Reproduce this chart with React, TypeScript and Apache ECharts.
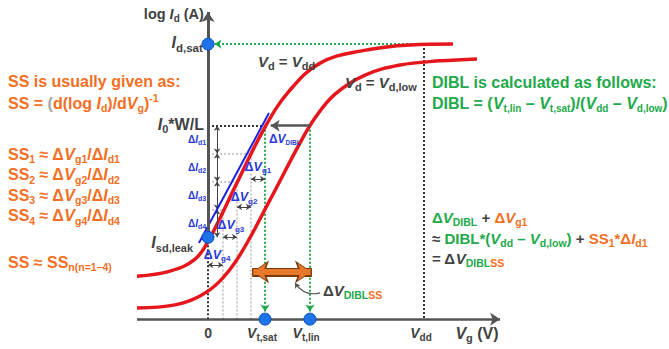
import React, { useEffect, useRef } from "react";
import * as echarts from "echarts";

const W = 669;
const H = 349;

// Axis space: Vg in volts (Vdd = 1), log Id in decades
const X_MIN = -0.963;
const X_MAX = 2.134;
const Y_MIN = -15;
const Y_MAX = -2.5;

const VDD = 1.0;
const VT_SAT = 0.264;
const VT_LIN = 0.472;
const ID_SAT = -4.08;
const I0_LEVEL = -7;
const ISD_LEAK = -11;
const AXIS_Y = -13.93;
const AXIS_X_START = -0.329;
const AXIS_X_END = 1.352;
const Y_AXIS_TOP = -2.93;

const DID_LEVELS = [-7, -8, -9, -10, -11];
const DID_X = 0.042;
const DVG_STEPS = [0, 0.069, 0.134, 0.199, 0.264];
const DVG_ARROW_LEVELS = [-8.91, -9.91, -10.99, -11.99];

const curveVdd: [number, number][] = [
  [-0.329, -12.39], [-0.176, -12.21], [-0.06, -11.78], [0.009, -11.02], [0.134, -9.05],
  [0.264, -7.05], [0.38, -5.72], [0.519, -4.76], [0.704, -4.33], [0.935, -4.11], [1.134, -4.08],
];
const curveVdLow: [number, number][] = [
  [-0.329, -13.53], [-0.153, -13.42], [-0.037, -13.1], [0.056, -12.56], [0.148, -11.63],
  [0.287, -9.66], [0.426, -7.62], [0.495, -6.73], [0.588, -5.87], [0.727, -5.19],
  [0.889, -4.83], [1.074, -4.68], [1.245, -4.61],
];
const tangent: [number, number][] = [[-0.042, -11.2], [0.282, -6.55]];
const orangeArrow: [number, number][] = [[0.204, -12.24], [0.481, -12.24]];
const pointer: [number, number][] = [[0.519, -12.99], [0.403, -12.64]];

const FONT = "'Liberation Sans', Arial, Helvetica, sans-serif";
const GRAY = "#424242";
const ORANGE = "#F26F24";
const GREEN = "#22A94B";
const BLUE = "#2B3AD6";
const RED = "#E5171C";
const DOT = "#1E73E8";

function styleSet(prefix: string, color: string, size: number, sub: number, useFill: boolean) {
  const base: any = { fontSize: size, fontWeight: "bold", fontFamily: FONT };
  if (useFill) base.fill = color;
  else base.color = color;
  const pad = Math.round(size * 0.6);
  return {
    [prefix + "n"]: base,
    [prefix + "i"]: { ...base, fontStyle: "italic" },
    [prefix + "s"]: { ...base, fontSize: sub, padding: [pad, 0, 0, 0] },
    [prefix + "u"]: { ...base, fontSize: sub, padding: [0, 0, pad, 0] },
  };
}

function makeRich(useFill: boolean): any {
  return {
    ...styleSet("g", GRAY, 15, 11, useFill),
    ...styleSet("h", GRAY, 16, 11.5, useFill),
    ...styleSet("a", GRAY, 14, 10, useFill),
    ...styleSet("L", GRAY, 16, 11, useFill),
    ...styleSet("t", GRAY, 14.5, 10, useFill),
    ...styleSet("b", BLUE, 10, 7, useFill),
    ...styleSet("v", BLUE, 12.5, 8, useFill),
    ...styleSet("x", BLUE, 12, 6.5, useFill),
    ...styleSet("o", ORANGE, 16, 10.5, useFill),
    ...styleSet("y", "#A5A5A5", 16, 10.5, useFill),
    ...styleSet("e", GREEN, 16, 10, useFill),
    ...styleSet("p", ORANGE, 15, 10.5, useFill),
    ...styleSet("q", GREEN, 15, 10.5, useFill),
    ...styleSet("r", GRAY, 15, 10.5, useFill),
  };
}
const RICH_LABEL = makeRich(false);
const RICH_GRAPHIC = makeRich(true);

const t = (k: string, s: string) => `{${k}|${s}}`;

const leftLines: [number, string][] = [
  [81, t("on", "SS is usually given as:")],
  [103, t("on", "SS = ") + t("yn", "(") + t("on", "d(log ") + t("oi", "I") + t("os", "d") + t("on", ")/d") + t("oi", "V") + t("os", "g") + t("on", ")") + t("ou", "-1")],
  ...[1, 2, 3, 4].map((n, k) => [154 + k * 20.5, t("on", "SS") + t("os", String(n)) + t("on", " ≈ Δ") + t("oi", "V") + t("os", "g" + n) + t("on", "/Δ") + t("oi", "I") + t("os", "d" + n)] as [number, string]),
  [262, t("on", "SS ≈ SS") + t("os", "n(n=1–4)")],
];

const rightLines: [number, string][] = [
  [82, t("en", "DIBL is calculated as follows:")],
  [103, t("en", "DIBL = (") + t("ei", "V") + t("es", "t,lin") + t("en", " – ") + t("ei", "V") + t("es", "t,sat") + t("en", ")/(") + t("ei", "V") + t("es", "dd") + t("en", " – ") + t("ei", "V") + t("es", "d,low") + t("en", ")")],
  [217, t("qn", "Δ") + t("qi", "V") + t("qs", "DIBL") + t("rn", " + ") + t("pn", "Δ") + t("pi", "V") + t("ps", "g1")],
  [238, t("rn", "≈ ") + t("qn", "DIBL*(") + t("qi", "V") + t("qs", "dd") + t("qn", " – ") + t("qi", "V") + t("qs", "d,low") + t("qn", ")") + t("rn", " + ") + t("pn", "SS") + t("ps", "1") + t("pn", "*Δ") + t("pi", "I") + t("ps", "d1")],
  [258, t("rn", "= Δ") + t("ri", "V") + t("qs", "DIBL") + t("ps", "SS")],
];

type Lbl = { at: [number, number]; text: string; align: string };
const chartLabels: Lbl[] = [
  { at: [-0.019, -3.0], text: t("tn", "log ") + t("ti", "I") + t("ts", "d") + t("tn", " (A)"), align: "right" },
  { at: [-0.024, -4.04], text: t("hi", "I") + t("hs", "d,sat"), align: "right" },
  { at: [-0.019, -6.95], text: t("Li", "I") + t("Ls", "0") + t("Ln", "*W/L"), align: "right" },
  { at: [-0.069, -11.2], text: t("Li", "I") + t("Ls", "sd,leak"), align: "right" },
  { at: [0.231, -4.72], text: t("gi", "V") + t("gs", "d") + t("gn", " = ") + t("gi", "V") + t("gs", "dd"), align: "left" },
  { at: [0.634, -5.44], text: t("gi", "V") + t("gs", "d") + t("gn", " = ") + t("gi", "V") + t("gs", "d,low"), align: "left" },
  { at: [0, -14.43], text: t("an", "0"), align: "center" },
  { at: [0.25, -14.43], text: t("ai", "V") + t("as", "t,sat"), align: "center" },
  { at: [0.454, -14.43], text: t("ai", "V") + t("as", "t,lin"), align: "center" },
  { at: [0.986, -14.43], text: t("ai", "V") + t("as", "dd"), align: "center" },
  { at: [1.245, -14.43], text: t("Li", "V") + t("Ls", "g") + t("Ln", " (V)"), align: "center" },
  ...[1, 2, 3, 4].map((n) => ({ at: [-0.009, -6.5 - n] as [number, number], text: t("bn", "Δ") + t("bi", "I") + t("bs", "d" + n), align: "right" })),
  { at: [0.231, -8.48], text: t("vn", "Δ") + t("vi", "V") + t("vs", "g1"), align: "center" },
  { at: [0.167, -9.56], text: t("vn", "Δ") + t("vi", "V") + t("vs", "g2"), align: "center" },
  { at: [0.106, -10.56], text: t("vn", "Δ") + t("vi", "V") + t("vs", "g3"), align: "center" },
  { at: [0.042, -11.63], text: t("vn", "Δ") + t("vi", "V") + t("vs", "g4"), align: "center" },
  { at: [0.282, -7.48], text: t("xn", "Δ") + t("xi", "V") + t("xs", "DIBL"), align: "left" },
  { at: [0.532, -12.89], text: t("rn", "Δ") + t("ri", "V") + t("qs", "DIBL") + t("ps", "SS"), align: "left" },
];

const seg = (a: [number, number], b: [number, number]) => ({ coords: [a, b] });

function buildOption(): any {
  const linesBase = { type: "lines", coordinateSystem: "cartesian2d", polyline: false, silent: true, z: 2 };
  const grayGuides = [1, 2, 3].flatMap((i) => [
    seg([0, DID_LEVELS[i]], [DVG_STEPS[4 - i], DID_LEVELS[i]]),
    seg([DVG_STEPS[4 - i], DID_LEVELS[i]], [DVG_STEPS[4 - i], AXIS_Y]),
  ]);
  const blackDotted = [
    seg([0, I0_LEVEL], [VT_SAT, I0_LEVEL]),
    seg([VDD, ID_SAT], [VDD, AXIS_Y]),
    seg([0, ISD_LEAK], [0, AXIS_Y]),
  ];
  const greenArrows = [
    seg([VDD, ID_SAT], [0.03, ID_SAT]),
    seg([VT_SAT, I0_LEVEL], [VT_SAT, AXIS_Y + 0.27]),
    seg([VT_LIN, I0_LEVEL], [VT_LIN, AXIS_Y + 0.27]),
  ];
  const didArrows = [0, 1, 2, 3].map((i) => seg([DID_X, DID_LEVELS[i]], [DID_X, DID_LEVELS[i + 1]]));
  const dvgArrows = [1, 2, 3, 4].map((n) => seg([DVG_STEPS[4 - n], DVG_ARROW_LEVELS[n - 1]], [DVG_STEPS[5 - n], DVG_ARROW_LEVELS[n - 1]]));
  const textStyle = (text: string) => ({
    text, rich: RICH_GRAPHIC, fill: GRAY, align: "left", verticalAlign: "middle", textAlign: "left", textVerticalAlign: "middle",
  });

  return {
    animation: false,
    backgroundColor: "#ffffff",
    grid: { left: 0, top: 0, width: W, height: H, containLabel: false },
    xAxis: { type: "value", min: X_MIN, max: X_MAX, show: false },
    yAxis: { type: "value", min: Y_MIN, max: Y_MAX, show: false },
    graphic: [
      ...leftLines.map(([y, text]) => ({ type: "text", x: 8, y, silent: true, style: textStyle(text) })),
      ...rightLines.map(([y, text]) => ({ type: "text", x: 432, y, silent: true, style: textStyle(text) })),
    ],
    series: [
      { ...linesBase, symbol: "none", lineStyle: { color: "#B8B8B8", width: 1.5, type: [2, 2], opacity: 1 }, data: grayGuides },
      { ...linesBase, symbol: "none", lineStyle: { color: "#333333", width: 2, type: [2, 2], opacity: 1 }, data: blackDotted },
      { ...linesBase, symbol: ["none", "arrow"], symbolSize: 7, lineStyle: { color: GREEN, width: 2, type: [2, 2], opacity: 1 }, data: greenArrows },
      { type: "line", data: curveVdLow, smooth: 0.4, showSymbol: false, silent: true, lineStyle: { color: RED, width: 3.5 }, z: 3 },
      { type: "line", data: curveVdd, smooth: 0.4, showSymbol: false, silent: true, lineStyle: { color: RED, width: 3.5 }, z: 3 },
      { type: "line", data: tangent, showSymbol: false, silent: true, lineStyle: { color: "#1C22E0", width: 2 }, z: 4 },
      { ...linesBase, z: 4, symbol: ["arrow", "arrow"], symbolSize: 5, lineStyle: { color: "#444", width: 1, opacity: 1 }, data: didArrows },
      { ...linesBase, z: 4, symbol: ["arrow", "arrow"], symbolSize: 5, lineStyle: { color: "#444", width: 1, opacity: 1 }, data: dvgArrows },
      { ...linesBase, z: 4, symbol: ["none", "arrow"], symbolSize: 9, lineStyle: { color: "#555", width: 2.5, opacity: 1 }, data: [seg([VT_LIN, I0_LEVEL], [0.29, I0_LEVEL])] },
      { ...linesBase, z: 4, symbol: ["arrow", "arrow"], symbolSize: 17, lineStyle: { color: "#7A3A0E", width: 9, opacity: 1 }, data: [seg(orangeArrow[0], orangeArrow[1])] },
      { ...linesBase, z: 4, symbol: ["arrow", "arrow"], symbolSize: 13, lineStyle: { color: "#E8782A", width: 6, opacity: 1 }, data: [seg([orangeArrow[0][0] + 0.006, orangeArrow[0][1]], [orangeArrow[1][0] - 0.006, orangeArrow[1][1]])] },
      { ...linesBase, z: 4, symbol: ["none", "arrow"], symbolSize: 5, lineStyle: { color: "#555", width: 1.2, opacity: 1, curveness: 0.35 }, data: [seg(pointer[0], pointer[1])] },
      { ...linesBase, z: 5, symbol: ["none", "arrow"], symbolSize: 10, lineStyle: { color: "#555", width: 3, opacity: 1 }, data: [seg([0, ISD_LEAK], [0, Y_AXIS_TOP])] },
      { ...linesBase, z: 5, symbol: ["none", "arrow"], symbolSize: 10, lineStyle: { color: "#555", width: 2.5, opacity: 1 }, data: [seg([AXIS_X_START, AXIS_Y], [AXIS_X_END, AXIS_Y])] },
      {
        type: "scatter", z: 6, silent: true, symbolSize: 12,
        itemStyle: { color: DOT, borderColor: "#0B4FB8", borderWidth: 1, opacity: 1 },
        data: [[0, ID_SAT], [0, ISD_LEAK], [VT_SAT, AXIS_Y], [VT_LIN, AXIS_Y]],
      },
      {
        type: "scatter", z: 7, silent: true, symbolSize: 1,
        itemStyle: { color: "rgba(0,0,0,0)", opacity: 1 },
        label: { show: true, position: "inside", rich: RICH_LABEL, verticalAlign: "middle" },
        data: chartLabels.map((l) => ({
          value: l.at,
          label: { show: true, position: "inside", formatter: l.text, align: l.align, verticalAlign: "middle", rich: RICH_LABEL },
        })),
      },
    ],
  };
}

export default function App() {
  const ref = useRef<HTMLDivElement>(null);
  useEffect(() => {
    if (!ref.current) return;
    const chart = echarts.init(ref.current, null, { renderer: "svg", width: W, height: H });
    chart.setOption(buildOption());
    return () => chart.dispose();
  }, []);
  return <div ref={ref} style={{ position: "absolute", left: 0, top: 0, width: W, height: H, background: "#fff" }} />;
}
